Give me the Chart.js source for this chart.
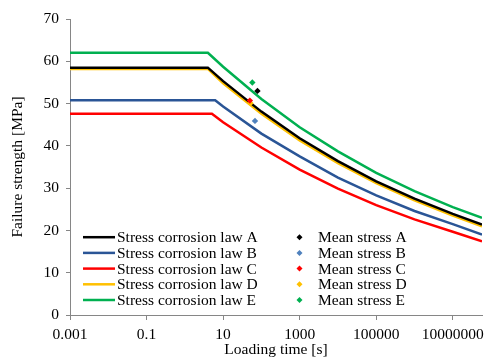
<!DOCTYPE html>
<html>
<head>
<meta charset="utf-8">
<script src="https://cdn.jsdelivr.net/npm/chart.js@4.4.1/dist/chart.umd.min.js"></script>
<style>
  html, body { margin: 0; padding: 0; background: #fff; }
  #wrap { width: 486px; height: 358px; }
</style>
</head>
<body>
<div id="wrap"><canvas id="chart"></canvas></div>
<script>
// --- data ---
const lawLabels = ['Stress corrosion law A', 'Stress corrosion law B', 'Stress corrosion law C', 'Stress corrosion law D', 'Stress corrosion law E'];
const meanLabels = ['Mean stress A', 'Mean stress B', 'Mean stress C', 'Mean stress D', 'Mean stress E'];
const lawColors = ['#000000', '#2a5596', '#ff0000', '#ffc000', '#00b050'];
const meanColors = ['#000000', '#4f81bd', '#ff0000', '#ffc000', '#00b050'];

// loading time [s] for each law curve
const timesA = [0.001, 4, 10, 100, 1000, 10000, 100000, 1000000, 10000000, 58000000];
const timesB = [0.001, 6.2, 10, 100, 1000, 10000, 100000, 1000000, 10000000, 58000000];
const timesC = [0.001, 5.1, 10, 100, 1000, 10000, 100000, 1000000, 10000000, 58000000];
const timesD = [0.001, 4, 10, 100, 1000, 10000, 100000, 1000000, 10000000, 58000000];
const timesE = [0.001, 4, 10, 100, 1000, 10000, 100000, 1000000, 10000000, 58000000];

// failure strength [MPa]
const strengthA = [58.5, 58.5, 55.3, 48.1, 41.8, 36.4, 31.6, 27.5, 23.9, 21.4];
const strengthB = [50.8, 50.8, 49.3, 42.9, 37.5, 32.5, 28.3, 24.6, 21.5, 19.0];
const strengthC = [47.6, 47.6, 45.6, 39.6, 34.4, 29.9, 26.0, 22.6, 19.7, 17.4];
const strengthD = [58.2, 58.2, 54.8, 47.6, 41.3, 35.9, 31.2, 27.1, 23.5, 21.0];
const strengthE = [62.0, 62.0, 58.7, 51.1, 44.4, 38.7, 33.6, 29.3, 25.5, 23.0];

// mean stress points
const meanTimes = [79, 68, 50, 52, 58];
const meanStrength = [53.0, 45.9, 50.7, 50.1, 55.0];

const xTicks = [0.001, 0.1, 10, 1000, 100000, 10000000];
const yTicks = [0, 10, 20, 30, 40, 50, 60, 70];

const FONT = "'Liberation Serif', 'DejaVu Serif', 'Times New Roman', serif";
const FS = 15.5;
const AXIS_GREY = '#868686';

const lawTimes = [timesA, timesB, timesC, timesD, timesE];
const lawStrength = [strengthA, strengthB, strengthC, strengthD, strengthE];

const datasets = [];
lawLabels.forEach((lbl, i) => {
    datasets.push({
        type: 'line', label: lbl, kind: 'law', order: 1,
        data: lawTimes[i].map((t, j) => ({ x: t, y: lawStrength[i][j] })),
        borderColor: lawColors[i], backgroundColor: lawColors[i],
        borderWidth: 2.5, pointRadius: 0, tension: 0, fill: false
    });
});
meanLabels.forEach((lbl, i) => {
    datasets.push({
        type: 'scatter', label: lbl, kind: 'mean', order: 0,
        data: [{ x: meanTimes[i], y: meanStrength[i] }],
        borderColor: meanColors[i], backgroundColor: meanColors[i],
        pointStyle: 'rectRot', pointRadius: 3.2, borderWidth: 0
    });
});

// legend drawn in two columns inside the plot
const twoColLegend = {
    id: 'twoColLegend',
    afterDraw(chart) {
        const ctx = chart.ctx, ca = chart.chartArea;
        const laws = chart.data.datasets.filter(d => d.kind === 'law');
        const means = chart.data.datasets.filter(d => d.kind === 'mean');
        const rowH = 15.7;
        const y0 = ca.bottom - 15 - rowH * (laws.length - 1);
        ctx.save();
        ctx.font = FS + 'px ' + FONT;
        ctx.textBaseline = 'middle';
        laws.forEach((d, i) => {
            const y = y0 + i * rowH;
            ctx.strokeStyle = d.borderColor;
            ctx.lineWidth = 2.5;
            ctx.beginPath();
            ctx.moveTo(ca.left + 13, y);
            ctx.lineTo(ca.left + 45, y);
            ctx.stroke();
            ctx.fillStyle = '#000';
            ctx.fillText(d.label, ca.left + 47, y + 1);
        });
        means.forEach((d, i) => {
            const y = y0 + i * rowH;
            const cx = ca.left + 229.5;
            ctx.fillStyle = d.backgroundColor;
            ctx.beginPath();
            ctx.moveTo(cx, y - 3); ctx.lineTo(cx + 3, y); ctx.lineTo(cx, y + 3); ctx.lineTo(cx - 3, y);
            ctx.closePath();
            ctx.fill();
            ctx.fillStyle = '#000';
            ctx.fillText(d.label, ca.left + 248, y + 1);
        });
        ctx.restore();
    }
};

new Chart(document.getElementById('chart'), {
    type: 'line',
    data: { datasets: datasets },
    plugins: [twoColLegend],
    options: {
        responsive: true,
        maintainAspectRatio: false,
        animation: false,
        layout: { padding: { top: 19, right: 0, left: 0, bottom: 0 } },
        plugins: { legend: { display: false }, tooltip: { enabled: false } },
        scales: {
            x: {
                type: 'logarithmic',
                min: 0.001, max: 58000000,
                afterBuildTicks: s => { s.ticks = xTicks.map(v => ({ value: v })); },
                afterFit: s => { s.height = 43; s.paddingRight = 0; },
                ticks: {
                    color: '#000', font: { family: FONT, size: FS }, padding: 6,
                    maxRotation: 0, autoSkip: false,
                    callback: v => String(v)
                },
                grid: { display: true, drawOnChartArea: false, drawTicks: true, tickLength: 5, color: AXIS_GREY },
                border: { color: AXIS_GREY, width: 1 },
                title: { display: true, text: 'Loading time [s]', color: '#000', font: { family: FONT, size: FS, lineHeight: 1.0 }, padding: { top: 0, bottom: 0 } }
            },
            y: {
                min: 0, max: 70,
                afterBuildTicks: s => { s.ticks = yTicks.map(v => ({ value: v })); },
                afterFit: s => { s.width = 70; },
                ticks: { color: '#000', font: { family: FONT, size: FS }, padding: 7 },
                grid: { display: true, drawOnChartArea: false, drawTicks: true, tickLength: 4, color: AXIS_GREY },
                border: { color: AXIS_GREY, width: 1 },
                title: { display: true, text: 'Failure strength [MPa]', color: '#000', font: { family: FONT, size: FS }, padding: { top: 9, bottom: 0 } }
            }
        }
    }
});
</script>
</body>
</html>
